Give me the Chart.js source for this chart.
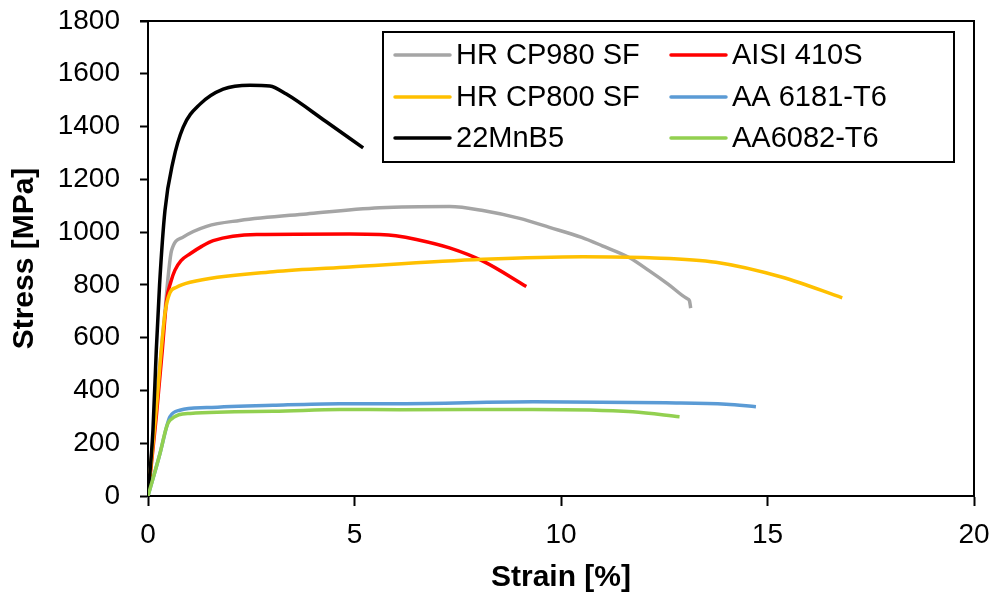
<!DOCTYPE html>
<html>
<head>
<meta charset="utf-8">
<script src="https://cdn.jsdelivr.net/npm/chart.js@4.4.1/dist/chart.umd.min.js"></script>
<style>
  html, body { margin: 0; padding: 0; background: #fff; }
  #wrap { width: 996px; height: 596px; }
</style>
</head>
<body>
<div id="wrap"><canvas id="stressChart" width="996" height="596"></canvas></div>
<script>
// strain [%] / stress [MPa]
const cp980Strain = [0, 0.2, 0.4, 0.5, 0.57, 0.85, 1.42, 2.22, 3.84, 5.61, 7.3, 8.11, 9.0, 9.72, 10.5, 11.0, 11.66, 12.14, 12.6, 13.05, 13.11, 13.14];
const cp980Stress = [0, 350, 680, 850, 930, 981, 1022, 1044, 1069, 1092, 1097, 1082, 1052, 1018, 980, 948, 903, 853, 802, 748, 740, 712];

const aisiStrain = [0, 0.2, 0.35, 0.45, 0.55, 0.65, 0.8, 1.02, 1.3, 1.58, 2.63, 4.88, 5.61, 6.0, 6.5, 7.3, 8.11, 9.16];
const aisiStress = [0, 300, 560, 741, 810, 855, 892, 918, 946, 968, 991, 993, 991, 986, 972, 940, 890, 794];

const cp800Strain = [0, 0.2, 0.41, 0.53, 0.69, 1.02, 3.03, 4.88, 8.11, 10.53, 12.14, 13.75, 15.36, 16.81];
const cp800Stress = [0, 330, 691, 770, 791, 810, 850, 868, 897, 907, 903, 886, 829, 751];

const aa6181Strain = [0, 0.29, 0.45, 0.53, 0.77, 1.42, 3.03, 4.64, 6.09, 9.32, 12.54, 14.0, 14.72];
const aa6181Stress = [0, 161, 262, 300, 325, 335, 344, 350, 350, 357, 353, 348, 338];

const mnb5Strain = [0, 0.12, 0.2, 0.28, 0.41, 0.61, 0.85, 1.26, 1.82, 2.47, 2.95, 3.35, 4.3, 5.21];
const mnb5Stress = [0, 250, 550, 800, 1081, 1270, 1397, 1485, 1542, 1557, 1554, 1523, 1420, 1319];

const aa6082Strain = [0, 0.29, 0.45, 0.53, 1.02, 3.03, 4.64, 6.09, 9.32, 11.74, 12.87];
const aa6082Stress = [0, 161, 262, 287, 313, 321, 328, 327, 328, 319, 300];

const seriesNames = ['HR CP980 SF', 'AISI 410S', 'HR CP800 SF', 'AA 6181-T6', '22MnB5', 'AA6082-T6'];
const seriesColors = ['#A5A5A5', '#FF0000', '#FFC000', '#5B9BD5', '#000000', '#92D050'];
const xTicks = [0, 5, 10, 15, 20];
const yTicks = [0, 200, 400, 600, 800, 1000, 1200, 1400, 1600, 1800];

const FONT = '"Liberation Sans", Arial, sans-serif';

function toPoints(xs, ys) {
    return xs.map((x, i) => ({ x: x, y: ys[i] }));
}

const allData = [
    toPoints(cp980Strain, cp980Stress),
    toPoints(aisiStrain, aisiStress),
    toPoints(cp800Strain, cp800Stress),
    toPoints(aa6181Strain, aa6181Stress),
    toPoints(mnb5Strain, mnb5Stress),
    toPoints(aa6082Strain, aa6082Stress)
];

// chart.js paints dataset 0 last, so reverse to keep the later series on top
const datasets = [];
for (let i = allData.length - 1; i >= 0; i--) {
    datasets.push({
        label: seriesNames[i],
        data: allData[i],
        borderColor: seriesColors[i],
        backgroundColor: seriesColors[i],
        borderWidth: 3.5,
        pointRadius: 0,
        fill: false,
        cubicInterpolationMode: 'monotone'
    });
}

// box on top/right of plot + legend inside
const framePlugin = {
    id: 'frame',
    afterDraw(chart) {
        const ctx = chart.ctx;
        const a = chart.chartArea;
        ctx.save();
        ctx.strokeStyle = '#000';
        ctx.lineWidth = 2;
        ctx.beginPath();
        ctx.moveTo(a.left - 8, a.top);
        ctx.lineTo(a.right, a.top);
        ctx.lineTo(a.right, a.bottom);
        ctx.stroke();

        // legend
        ctx.fillStyle = '#fff';
        ctx.fillRect(383, 32, 571, 130);
        ctx.strokeRect(383, 32, 571, 130);
        const cols = [395, 671];
        const rows = [55, 97, 138];
        ctx.font = '29px ' + FONT;
        ctx.textBaseline = 'middle';
        ctx.textAlign = 'left';
        seriesNames.forEach((name, i) => {
            const cx = cols[i % 2];
            const cy = rows[Math.floor(i / 2)];
            ctx.strokeStyle = seriesColors[i];
            ctx.lineWidth = 3.5;
            ctx.lineCap = 'round';
            ctx.beginPath();
            ctx.moveTo(cx, cy);
            ctx.lineTo(cx + 55, cy);
            ctx.stroke();
            ctx.fillStyle = '#000';
            ctx.fillText(name, cx + 61, cy + 1);
        });
        ctx.restore();
    }
};

const ctx = document.getElementById('stressChart').getContext('2d');
window.stressChart = new Chart(ctx, {
    type: 'line',
    data: { datasets: datasets },
    options: {
        responsive: false,
        animation: false,
        layout: { padding: { top: 21, right: 22, left: 0, bottom: 0 } },
        plugins: { legend: { display: false }, tooltip: { enabled: false } },
        scales: {
            x: {
                type: 'linear',
                min: 0,
                max: 20,
                afterBuildTicks(scale) { scale.ticks = xTicks.map(v => ({ value: v })); },
                afterFit(scale) {
                    scale.height = 100;
                    scale.paddingLeft = 0;
                    scale.paddingRight = 0;
                },
                grid: { drawOnChartArea: false, drawTicks: true, tickLength: 10, tickWidth: 2, tickColor: '#000' },
                border: { display: true, color: '#000', width: 2 },
                ticks: { color: '#000', padding: 12, font: { family: FONT, size: 28 }, callback: v => String(v) },
                title: {
                    display: true,
                    text: 'Strain [%]',
                    color: '#000',
                    padding: { top: 0, bottom: 0 },
                    font: { family: FONT, size: 30, weight: 'bold' }
                }
            },
            y: {
                type: 'linear',
                min: 0,
                max: 1800,
                afterBuildTicks(scale) { scale.ticks = yTicks.map(v => ({ value: v })); },
                afterFit(scale) {
                    scale.width = 148;
                    scale.paddingTop = 0;
                    scale.paddingBottom = 0;
                },
                grid: { drawOnChartArea: false, drawTicks: true, tickLength: 8, tickWidth: 2, tickColor: '#000' },
                border: { display: true, color: '#000', width: 2 },
                ticks: { color: '#000', padding: 20, font: { family: FONT, size: 28 }, callback: v => String(v) },
                title: {
                    display: true,
                    text: 'Stress [MPa]',
                    color: '#000',
                    padding: { top: 7, bottom: 0 },
                    font: { family: FONT, size: 30, weight: 'bold' }
                }
            }
        }
    },
    plugins: [framePlugin]
});
</script>
</body>
</html>
